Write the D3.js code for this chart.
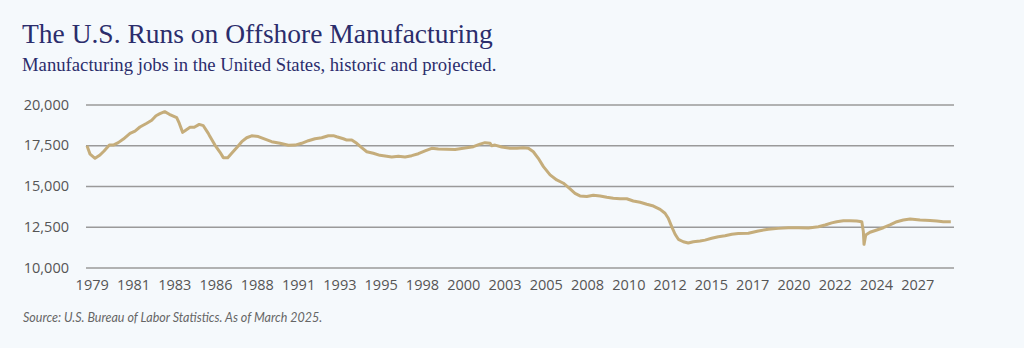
<!DOCTYPE html>
<html lang="en">
<head>
    <meta charset="UTF-8">
    <title>Manufacturing jobs</title>
    <script src="https://cdn.jsdelivr.net/npm/d3@7"></script>
    <style>
        * { box-sizing: border-box; }
        body { margin: 0; background: #f5f9fc; }
        svg { display: block; }
    </style>
</head>
<body>
    <svg id="chart" width="1024" height="348"></svg>
    <script>
        // decimal year of each reading, and manufacturing jobs (thousands)
        let years = [
            1979.0, 1979.18, 1979.47, 1979.76, 1980.0, 1980.31, 1980.54, 1980.83, 1981.13, 1981.52,
            1981.81, 1982.1, 1982.5, 1982.79, 1983.04, 1983.27, 1983.55, 1983.82, 1984.25, 1984.4,
            1984.6, 1984.8, 1985.03, 1985.28, 1985.57, 1985.81, 1986.1, 1986.2, 1986.49, 1986.79,
            1986.98, 1987.24, 1987.47, 1987.76, 1988.06, 1988.35, 1988.64, 1989.03, 1989.42, 1989.81,
            1990.3, 1990.79, 1991.18, 1991.57, 1991.96, 1992.35, 1992.74, 1993.13, 1993.42, 1993.62,
            1994.01, 1994.21, 1994.5, 1994.79, 1995.08, 1995.38, 1995.76, 1996.15, 1996.45, 1996.84,
            1997.23, 1997.62, 1998.01, 1998.4, 1998.79, 1999.18, 1999.57, 2000.06, 2000.55, 2001.03,
            2001.62, 2002.01, 2002.3, 2002.6, 2002.69, 2002.89, 2003.28, 2003.77, 2004.16, 2004.54,
            2004.84, 2005.13, 2005.42, 2005.72, 2006.11, 2006.5, 2006.89, 2007.28, 2007.57, 2007.86,
            2008.26, 2008.64, 2009.04, 2009.43, 2009.81, 2010.21, 2010.6, 2010.98, 2011.38, 2011.77,
            2012.16, 2012.55, 2012.84, 2013.03, 2013.23, 2013.43, 2013.62, 2013.91, 2014.2, 2014.5,
            2014.89, 2015.18, 2015.57, 2015.96, 2016.35, 2016.75, 2017.13, 2017.72, 2018.3, 2018.89,
            2019.47, 2020.06, 2020.65, 2021.23, 2021.82, 2022.21, 2022.6, 2022.89, 2023.28, 2023.67,
            2024.06, 2024.36, 2024.45, 2024.49, 2024.59, 2024.84, 2025.24, 2025.62, 2026.01, 2026.41,
            2026.79, 2027.19, 2027.77, 2028.36, 2028.75, 2029.13, 2029.57
        ];
        let jobs = [
            17470, 16950, 16700, 16900, 17150, 17510, 17510, 17660, 17880, 18230,
            18370, 18620, 18850, 19030, 19310, 19440, 19560, 19400, 19190, 18850,
            18290, 18440, 18600, 18600, 18780, 18700, 18230, 18030, 17510, 17070,
            16740, 16740, 17010, 17350, 17720, 17960, 18080, 18030, 17870, 17720,
            17620, 17500, 17510, 17620, 17780, 17900, 17960, 18080, 18090, 18020,
            17900, 17820, 17820, 17620, 17350, 17100, 17010, 16880, 16840, 16780,
            16820, 16780, 16860, 16980, 17150, 17310, 17270, 17250, 17240, 17310,
            17410, 17570, 17660, 17620, 17470, 17510, 17390, 17310, 17310, 17350,
            17310, 17100, 16700, 16190, 15680, 15370, 15170, 14820, 14550, 14390,
            14350, 14430, 14390, 14310, 14250, 14220, 14220, 14080, 14000, 13880,
            13770, 13570, 13330, 13020, 12510, 12040, 11730, 11580, 11500, 11580,
            11630, 11680, 11790, 11890, 11950, 12040, 12080, 12100, 12240, 12350,
            12400, 12440, 12440, 12420, 12500, 12610, 12740, 12810, 12870, 12870,
            12850, 12810, 12200, 11420, 11990, 12160, 12300, 12440, 12610, 12810,
            12910, 12970, 12910, 12890, 12850, 12810, 12810
        ];
        let yTicks = [10000, 12500, 15000, 17500, 20000];
        let xTickLabels = ["1979", "1981", "1983", "1986", "1988", "1991", "1993", "1995", "1998", "2000",
            "2003", "2005", "2008", "2010", "2012", "2015", "2017", "2020", "2022", "2024", "2027"];
        let monthsPerLabel = 29;

        let svg = d3.select("#chart");
        let navy = "#2b2d6c";

        let x = d3.scaleLinear().domain([1979, 2029.64]).range([87, 952]);
        let y = d3.scaleLinear().domain([10000, 20000]).range([267.5, 104.5]);

        svg.append("rect").attr("width", 1024).attr("height", 348).attr("fill", "#f5f9fc");

        // titles
        svg.append("text")
            .attr("x", 22).attr("y", 43)
            .attr("fill", navy)
            .attr("font-family", "'Liberation Serif', serif")
            .attr("font-size", 27.5)
            .text("The U.S. Runs on Offshore Manufacturing");

        svg.append("text")
            .attr("x", 22).attr("y", 71)
            .attr("fill", navy)
            .attr("font-family", "'Liberation Serif', serif")
            .attr("font-size", 18.7)
            .text("Manufacturing jobs in the United States, historic and projected.");

        // horizontal grid + y labels
        let yAxis = d3.axisLeft(y)
            .tickValues(yTicks)
            .tickSize(-(954 - 86))
            .tickPadding(17)
            .tickFormat(d3.format(","));
        let yg = svg.append("g").attr("transform", "translate(86,0)").call(yAxis);
        yg.select(".domain").remove();
        yg.selectAll("line").attr("stroke", "#9a9a9a").attr("stroke-width", 1.5);
        yg.selectAll("text")
            .attr("fill", "#555")
            .attr("font-family", "'Open Sans', sans-serif")
            .attr("font-size", 14.5);

        // x labels, one every 29 months
        let tickYears = xTickLabels.map((d, i) => 1979 + i * monthsPerLabel / 12);
        let xAxis = d3.axisBottom(x)
            .tickValues(tickYears)
            .tickSize(0)
            .tickPadding(12)
            .tickFormat((d, i) => xTickLabels[i]);
        let xg = svg.append("g").attr("transform", "translate(4.7,267.5)").call(xAxis);
        xg.select(".domain").remove();
        xg.selectAll("text")
            .attr("fill", "#555")
            .attr("font-family", "'Open Sans', sans-serif")
            .attr("font-size", 14.5);

        // the line
        let line = d3.line()
            .x((d, i) => x(years[i]))
            .y(d => y(d))
            .curve(d3.curveLinear);

        svg.append("path")
            .datum(jobs)
            .attr("fill", "none")
            .attr("stroke", "#c5ad7b")
            .attr("stroke-width", 3)
            .attr("stroke-linejoin", "round")
            .attr("d", line);

        svg.append("text")
            .attr("x", 23).attr("y", 322)
            .attr("fill", "#666")
            .attr("font-family", "Lato, sans-serif")
            .attr("font-style", "italic")
            .attr("font-size", 12.5)
            .text("Source: U.S. Bureau of Labor Statistics. As of March 2025.");
    </script>
</body>
</html>
